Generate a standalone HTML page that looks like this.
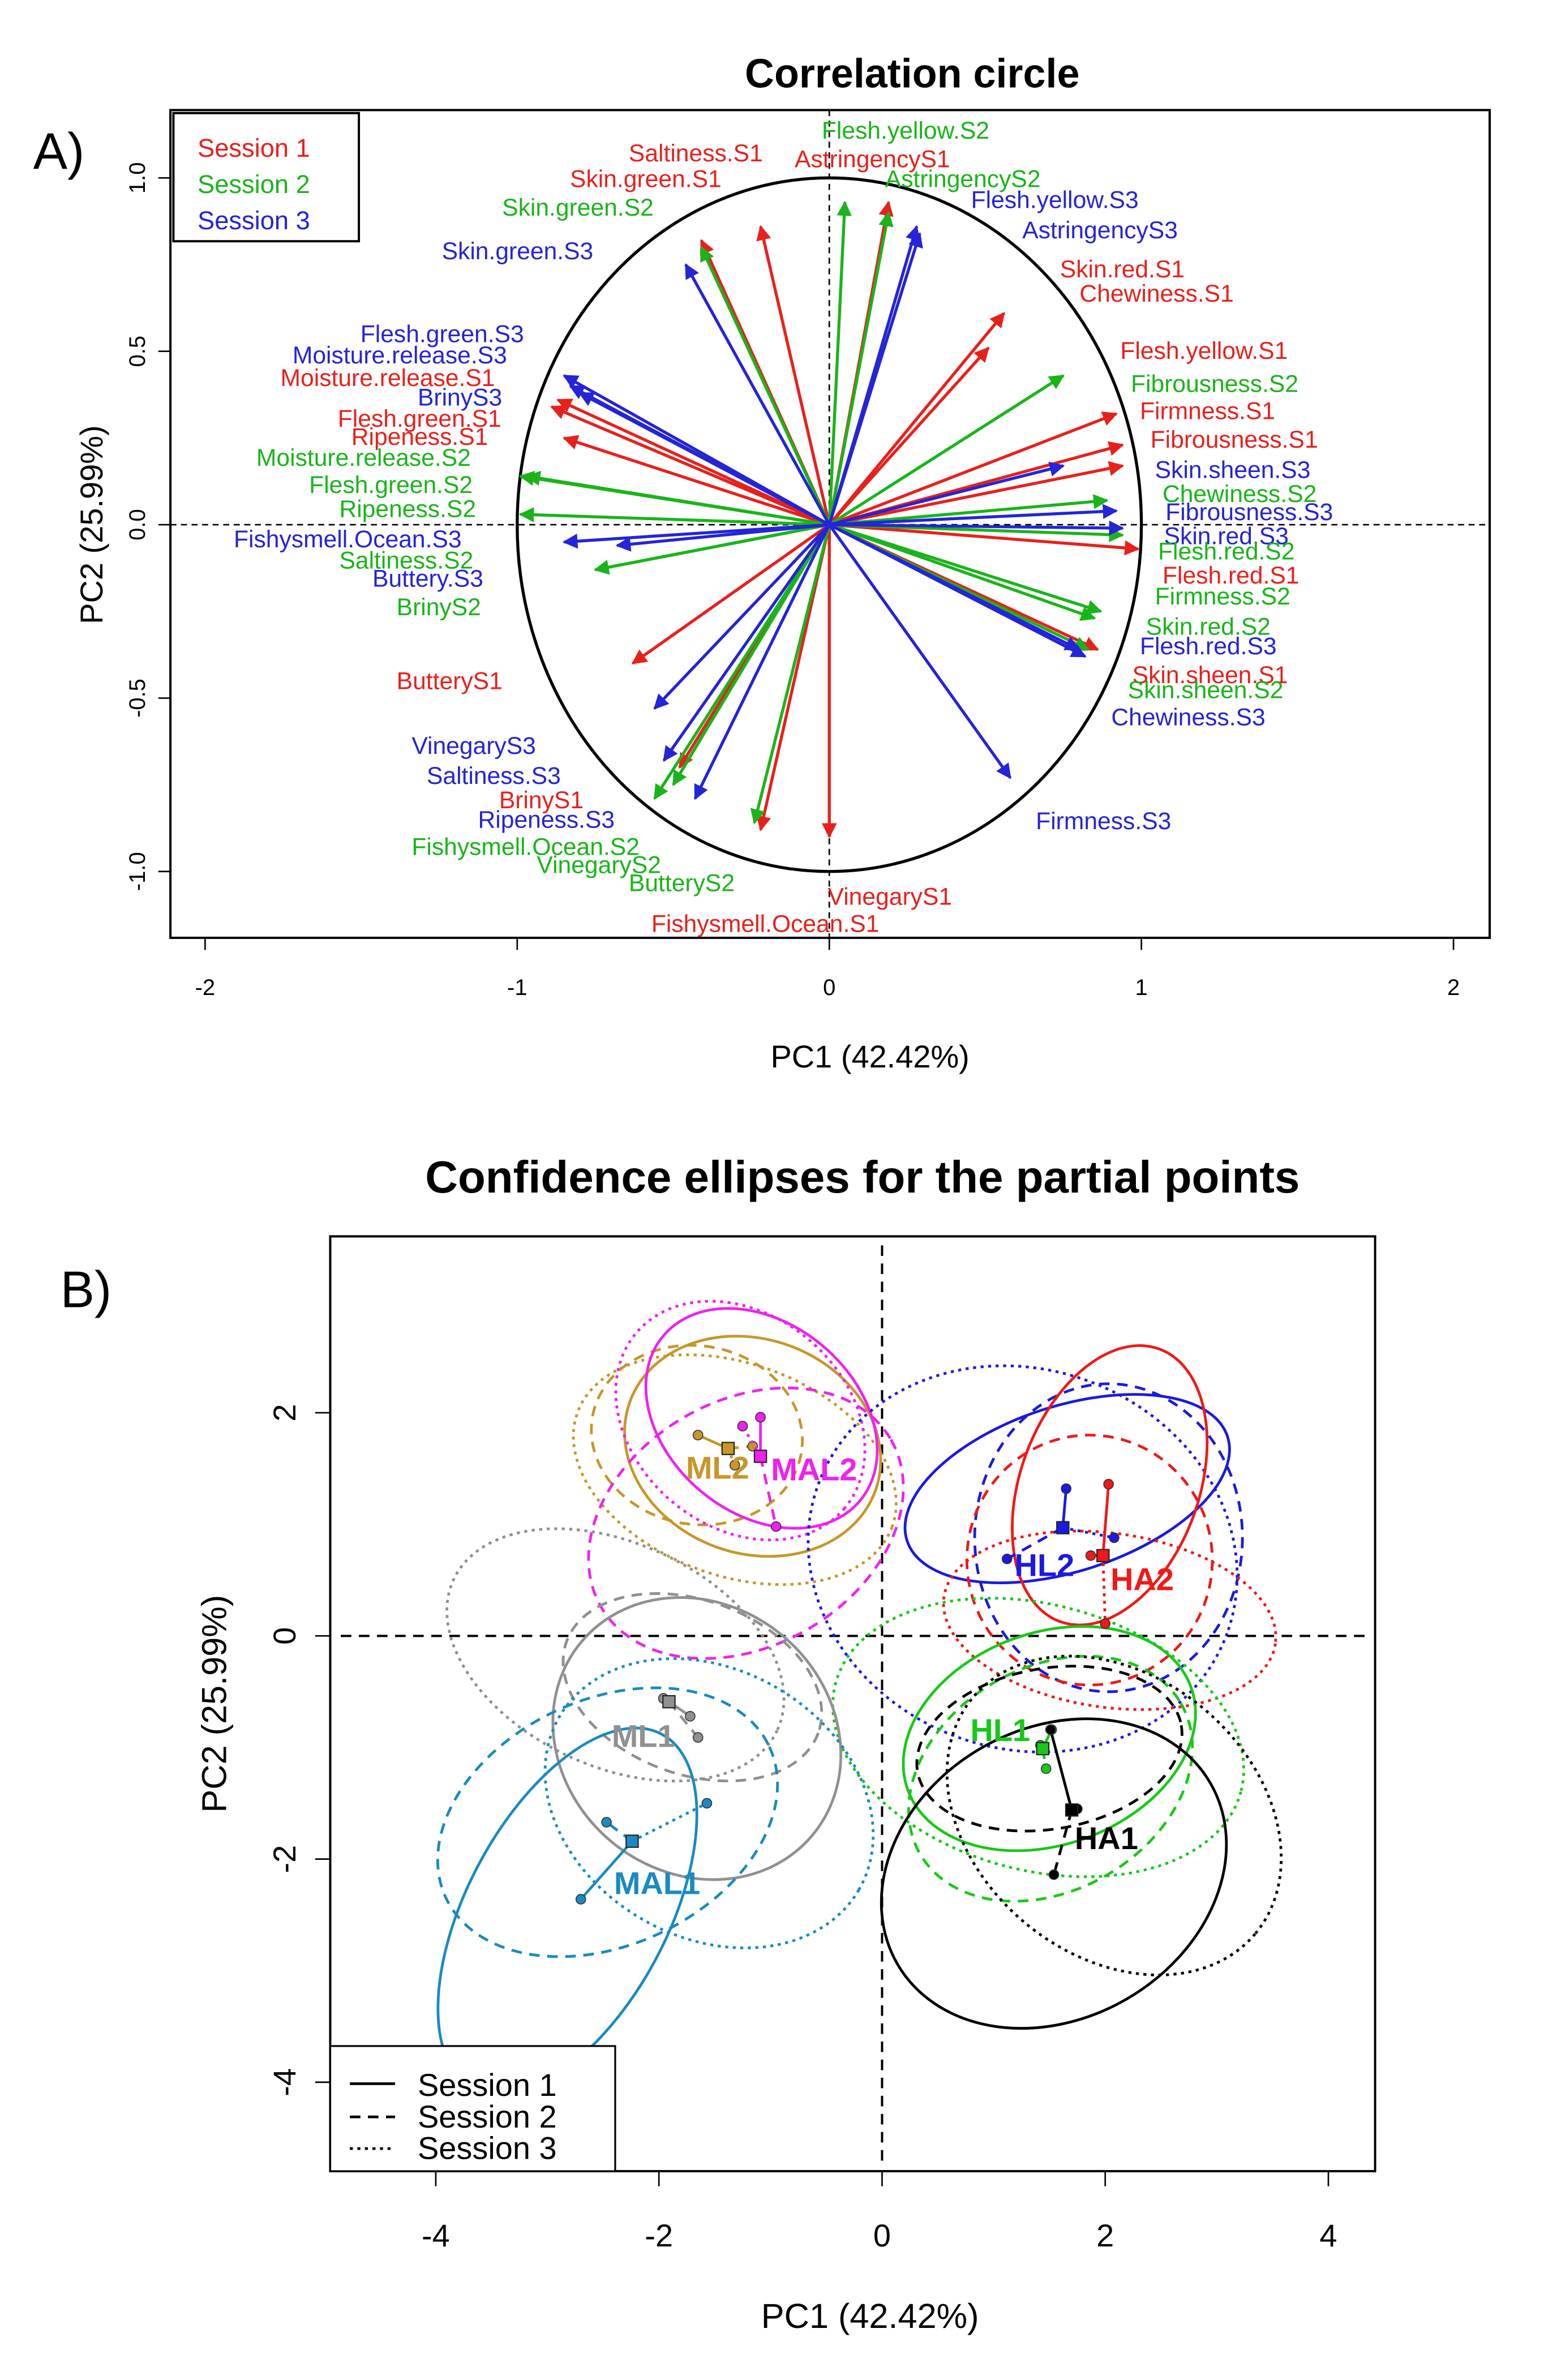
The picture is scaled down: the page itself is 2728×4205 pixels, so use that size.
<!DOCTYPE html>
<html><head><meta charset="utf-8"><style>
html,body{margin:0;padding:0;background:#fff}
svg{display:block}
text{font-family:"Liberation Sans",sans-serif}
</style></head><body>
<svg id="root" width="2728" height="4205" viewBox="0 0 1024 1578.5" xmlns="http://www.w3.org/2000/svg">
<rect width="1024" height="1578.5" fill="#fff"/>
<!-- Panel A -->
<g id="panelA">
<text x="22" y="112" font-size="34">A)</text>
<text x="605" y="58" font-size="27" font-weight="bold" text-anchor="middle">Correlation circle</text>
<rect x="113" y="73" width="875" height="549" fill="none" stroke="#000" stroke-width="1.5"/>
<g id="axA"></g>
<g id="arrowsA"></g>
<text x="577" y="708" font-size="21" text-anchor="middle">PC1 (42.42%)</text>
<text transform="translate(68,348) rotate(-90)" font-size="21" text-anchor="middle">PC2 (25.99%)</text>
<g>
<rect x="115" y="75" width="123" height="85" fill="#fff" stroke="#000" stroke-width="1.5"/>
<text x="131" y="104" font-size="17" fill="#e8201c">Session 1</text>
<text x="131" y="128" font-size="17" fill="#1ab41a">Session 2</text>
<text x="131" y="152" font-size="17" fill="#2424d8">Session 3</text>
</g>
<g font-size="16">
<text x="545" y="92" fill="#1ab41a">Flesh.yellow.S2</text>
<text x="417" y="107" fill="#e8201c">Saltiness.S1</text>
<text x="527" y="111" fill="#e8201c">AstringencyS1</text>
<text x="378" y="124" fill="#e8201c">Skin.green.S1</text>
<text x="587" y="124" fill="#1ab41a">AstringencyS2</text>
<text x="644" y="138" fill="#2424d8">Flesh.yellow.S3</text>
<text x="333" y="143" fill="#1ab41a">Skin.green.S2</text>
<text x="678" y="158" fill="#2424d8">AstringencyS3</text>
<text x="293" y="172" fill="#2424d8">Skin.green.S3</text>
<text x="703" y="184" fill="#e8201c">Skin.red.S1</text>
<text x="716" y="200" fill="#e8201c">Chewiness.S1</text>
<text x="239" y="227" fill="#2424d8">Flesh.green.S3</text>
<text x="743" y="238" fill="#e8201c">Flesh.yellow.S1</text>
<text x="194" y="241" fill="#2424d8">Moisture.release.S3</text>
<text x="186" y="256" fill="#e8201c">Moisture.release.S1</text>
<text x="750" y="260" fill="#1ab41a">Fibrousness.S2</text>
<text x="277" y="269" fill="#2424d8">BrinyS3</text>
<text x="224" y="283" fill="#e8201c">Flesh.green.S1</text>
<text x="756" y="278" fill="#e8201c">Firmness.S1</text>
<text x="233" y="295" fill="#e8201c">Ripeness.S1</text>
<text x="763" y="297" fill="#e8201c">Fibrousness.S1</text>
<text x="170" y="309" fill="#1ab41a">Moisture.release.S2</text>
<text x="766" y="317" fill="#2424d8">Skin.sheen.S3</text>
<text x="205" y="327" fill="#1ab41a">Flesh.green.S2</text>
<text x="771" y="333" fill="#1ab41a">Chewiness.S2</text>
<text x="225" y="343" fill="#1ab41a">Ripeness.S2</text>
<text x="773" y="345" fill="#2424d8">Fibrousness.S3</text>
<text x="155" y="363" fill="#2424d8">Fishysmell.Ocean.S3</text>
<text x="772" y="361" fill="#2424d8">Skin.red.S3</text>
<text x="768" y="371" fill="#1ab41a">Flesh.red.S2</text>
<text x="225" y="377" fill="#1ab41a">Saltiness.S2</text>
<text x="247" y="389" fill="#2424d8">Buttery.S3</text>
<text x="771" y="387" fill="#e8201c">Flesh.red.S1</text>
<text x="766" y="401" fill="#1ab41a">Firmness.S2</text>
<text x="263" y="408" fill="#1ab41a">BrinyS2</text>
<text x="760" y="421" fill="#1ab41a">Skin.red.S2</text>
<text x="756" y="434" fill="#2424d8">Flesh.red.S3</text>
<text x="751" y="453" fill="#e8201c">Skin.sheen.S1</text>
<text x="263" y="457" fill="#e8201c">ButteryS1</text>
<text x="748" y="463" fill="#1ab41a">Skin.sheen.S2</text>
<text x="737" y="481" fill="#2424d8">Chewiness.S3</text>
<text x="273" y="500" fill="#2424d8">VinegaryS3</text>
<text x="283" y="520" fill="#2424d8">Saltiness.S3</text>
<text x="331" y="536" fill="#e8201c">BrinyS1</text>
<text x="317" y="549" fill="#2424d8">Ripeness.S3</text>
<text x="687" y="550" fill="#2424d8">Firmness.S3</text>
<text x="273" y="567" fill="#1ab41a">Fishysmell.Ocean.S2</text>
<text x="356" y="579" fill="#1ab41a">VinegaryS2</text>
<text x="417" y="591" fill="#1ab41a">ButteryS2</text>
<text x="549" y="600" fill="#e8201c">VinegaryS1</text>
<text x="432" y="618" fill="#e8201c">Fishysmell.Ocean.S1</text>
</g>
</g>
<!-- Panel B -->
<g id="panelB">
<text x="40" y="867" font-size="34">B)</text>
<text x="572" y="791" font-size="30" font-weight="bold" text-anchor="middle">Confidence ellipses for the partial points</text>
<rect x="219" y="820" width="693" height="620" fill="none" stroke="#000" stroke-width="1.5"/>
<g id="axB"></g>
<g id="ellB"></g>
<g id="ptsB"></g>
<text x="577" y="1544" font-size="23" text-anchor="middle">PC1 (42.42%)</text>
<text transform="translate(150,1130) rotate(-90)" font-size="23" text-anchor="middle">PC2 (25.99%)</text>
<g>
<rect x="219" y="1357" width="189" height="83" fill="#fff" stroke="#000" stroke-width="1.2"/>
<line x1="232" y1="1382" x2="262" y2="1382" stroke="#000" stroke-width="1.8"/>
<line x1="232" y1="1404" x2="262" y2="1404" stroke="#000" stroke-width="1.8" stroke-dasharray="7,5"/>
<line x1="232" y1="1425" x2="262" y2="1425" stroke="#000" stroke-width="1.8" stroke-dasharray="2,3"/>
<text x="277" y="1390" font-size="21">Session 1</text>
<text x="277" y="1411" font-size="21">Session 2</text>
<text x="277" y="1432" font-size="21">Session 3</text>
</g>
</g>
</svg>
<script>
const NS="http://www.w3.org/2000/svg";
// ---- Panel A data ----
const varNames=["AstringencyS1","Saltiness.S1","Skin.green.S1","Skin.red.S1","Chewiness.S1","Flesh.yellow.S1","Firmness.S1","Fibrousness.S1","Flesh.red.S1","Skin.sheen.S1","Moisture.release.S1","Flesh.green.S1","Ripeness.S1","ButteryS1","BrinyS1","VinegaryS1","Fishysmell.Ocean.S1",
"Flesh.yellow.S2","AstringencyS2","Skin.green.S2","Fibrousness.S2","Chewiness.S2","Flesh.red.S2","Firmness.S2","Skin.red.S2","Skin.sheen.S2","Moisture.release.S2","Flesh.green.S2","Ripeness.S2","Saltiness.S2","BrinyS2","Fishysmell.Ocean.S2","VinegaryS2","ButteryS2",
"Flesh.yellow.S3","AstringencyS3","Skin.green.S3","Flesh.green.S3","Moisture.release.S3","BrinyS3","Fishysmell.Ocean.S3","Buttery.S3","Skin.sheen.S3","Fibrousness.S3","Skin.red.S3","Flesh.red.S3","Chewiness.S3","Firmness.S3","VinegaryS3","Saltiness.S3","Ripeness.S3"];
const pc1=[0.19,-0.22,-0.41,0.56,0.51,0.92,0.94,0.94,0.99,0.86,-0.89,-0.87,-0.85,-0.63,-0.22,-0.48,0.0,
0.05,0.19,-0.41,0.75,0.89,0.94,0.87,0.85,0.83,-0.97,-0.99,-0.99,-0.75,-0.75,-0.56,-0.5,-0.24,
0.28,0.29,-0.46,-0.85,-0.83,-0.8,-0.85,-0.68,0.75,0.92,0.94,0.82,0.80,0.58,-0.56,-0.53,-0.43];
const pc2=[0.93,0.86,0.82,0.61,0.51,0.32,0.23,0.17,-0.07,-0.36,0.34,0.36,0.25,-0.4,-0.88,-0.7,-0.9,
0.93,0.9,0.8,0.43,0.07,-0.03,-0.25,-0.27,-0.36,0.14,0.14,0.03,-0.13,-0.13,-0.79,-0.75,-0.86,
0.86,0.84,0.75,0.43,0.40,0.38,-0.05,-0.06,0.17,0.04,-0.01,-0.38,-0.36,-0.73,-0.53,-0.68,-0.79];
const sessionOf=[1,1,1,1,1,1,1,1,1,1,1,1,1,1,1,1,1,2,2,2,2,2,2,2,2,2,2,2,2,2,2,2,2,2,3,3,3,3,3,3,3,3,3,3,3,3,3,3,3,3,3];
const ticksA_x=[-2,-1,0,1,2];
const ticksA_y=[-1.0,-0.5,0.0,0.5,1.0];
const sx=v=>550+v*207, sy=v=>348-v*230;
const sesCol={1:"#e8201c",2:"#1ab41a",3:"#2424d8"};
function mk(tag,attrs,parent){const e=document.createElementNS(NS,tag);for(const k in attrs)e.setAttribute(k,attrs[k]);parent.appendChild(e);return e;}
const axA=document.getElementById("axA");
ticksA_x.forEach(t=>{const l=mk("line",{x1:sx(t),y1:622,x2:sx(t),y2:630,stroke:"#000"},axA);


const tx=mk("text",{x:sx(t),y:660,"font-size":15,"text-anchor":"middle"},axA);tx.textContent=String(t);

});
ticksA_y.forEach(t=>{const l=mk("line",{x1:105,y1:sy(t),x2:113,y2:sy(t),stroke:"#000"},axA);


const tx=mk("text",{transform:`translate(96,${sy(t)}) rotate(-90)`,"font-size":15,"text-anchor":"middle"},axA);tx.textContent=t.toFixed(1);

});
mk("line",{x1:113,y1:sy(0),x2:988,y2:sy(0),stroke:"#000","stroke-dasharray":"4,3"},axA);
mk("line",{x1:sx(0),y1:73,x2:sx(0),y2:622,stroke:"#000","stroke-dasharray":"4,3"},axA);
const circ=mk("ellipse",{cx:sx(0),cy:sy(0),rx:207,ry:230,fill:"none",stroke:"#000","stroke-width":2},axA);


const defs=mk("defs",{},document.getElementById("root"));
[1,2,3].forEach(s=>{const m=mk("marker",{id:"ah"+s,viewBox:"0 0 10 10",refX:9,refY:5,markerWidth:5,markerHeight:5,orient:"auto"},defs);mk("path",{d:"M0,0 L10,5 L0,10 z",fill:sesCol[s]},m);});
const arrowsA=document.getElementById("arrowsA");
varNames.forEach((n,i)=>{const l=mk("line",{x1:sx(0),y1:sy(0),x2:sx(pc1[i]),y2:sy(pc2[i]),stroke:sesCol[sessionOf[i]],"stroke-width":2,"marker-end":`url(#ah${sessionOf[i]})`},arrowsA);

});

// ---- Panel B data ----
const groups=["ML2","MAL2","HL2","HA2","HL1","HA1","ML1","MAL1"];
const groupColors=["#c8962a","#f020f0","#1a1ae0","#f01818","#18c818","#000000","#909090","#1a8ac0"];
const ellCx=[[-1.16,-1.66,-1.32],[-1.08,-1.22,-1.27],[1.66,2.03,1.26],[2.04,1.86,2.04],[1.5,1.51,1.4],[1.54,1.5,2.08],[-1.66,-1.70,-2.39],[-2.82,-2.46,-1.55]];
const ellCy=[[1.70,1.80,1.49],[1.95,1.01,1.93],[1.32,0.88,0.69],[1.35,0.68,0.14],[-0.92,-1.28,-0.91],[-2.13,-1.01,-1.61],[-0.92,-0.46,-0.17],[-2.47,-1.67,-1.5]];
const ellRx=[[1.17,0.95,1.5],[1.15,1.5,1.22],[1.51,1.2,1.95],[0.8,1.1,1.5],[1.35,1.35,1.88],[1.62,1.2,1.65],[1.35,1.2,1.6],[1.8,1.6,1.55]];
const ellRy=[[0.96,0.8,0.95],[0.85,1.1,0.95],[0.74,1.38,1.7],[1.3,1.12,0.78],[0.95,1.0,1.19],[1.3,0.72,1.25],[1.2,0.78,1.0],[0.9,1.1,1.2]];
const ellAng=[[-20,-10,-20],[-40,30,-40],[18,0,-20],[-20,0,-8],[20,30,-15],[30,10,-40],[-40,-20,-25],[62,25,-30]];
const centX=[-1.38,-1.09,1.62,1.98,1.44,1.70,-1.91,-2.24];
const centY=[1.68,1.61,0.97,0.72,-1.01,-1.56,-0.59,-1.84];
const partX=[[-1.65,-1.16,-1.32],[-1.09,-0.95,-1.25],[1.65,1.12,2.08],[2.03,1.87,2.0],[1.52,1.47,1.42],[1.51,1.54,1.75],[-1.72,-1.65,-1.96],[-2.7,-2.47,-1.57]];
const partY=[[1.80,1.70,1.53],[1.96,0.98,1.88],[1.32,0.69,0.88],[1.36,0.72,0.11],[-0.84,-1.19,-0.98],[-0.84,-2.14,-1.55],[-0.72,-0.91,-0.56],[-2.36,-1.67,-1.50]];
const labelDx=[-28,7,-32,5,-48,2,-38,-12];
const labelDy=[20,16,32,23,-5,26,30,35];
const ticksB=[-4,-2,0,2,4];
const bx=v=>585+v*74, by=v=>1085-v*74;
const dash=["","7,5","2,3"];
const axB=document.getElementById("axB");
ticksB.forEach(t=>{const l=mk("line",{x1:bx(t),y1:1440,x2:bx(t),y2:1450,stroke:"#000"},axB);


const tx=mk("text",{x:bx(t),y:1490,"font-size":21,"text-anchor":"middle"},axB);tx.textContent=String(t);

});
ticksB.filter(t=>t>=-4&&t<=2).forEach(t=>{const l=mk("line",{x1:209,y1:by(t),x2:219,y2:by(t),stroke:"#000"},axB);


const tx=mk("text",{transform:`translate(196,${by(t)}) rotate(-90)`,"font-size":21,"text-anchor":"middle"},axB);tx.textContent=String(t);

});
mk("line",{x1:226,y1:by(0),x2:905,y2:by(0),stroke:"#000","stroke-dasharray":"7,5","stroke-width":1.5},axB);
mk("line",{x1:bx(0),y1:826,x2:bx(0),y2:1434,stroke:"#000","stroke-dasharray":"7,5","stroke-width":1.5},axB);
const ellB=document.getElementById("ellB"), ptsB=document.getElementById("ptsB");
groups.forEach((g,gi)=>{
  for(let s=0;s<3;s++){
    const e=mk("ellipse",{cx:bx(ellCx[gi][s]),cy:by(ellCy[gi][s]),rx:ellRx[gi][s]*74,ry:ellRy[gi][s]*74,
      transform:`rotate(${-ellAng[gi][s]} ${bx(ellCx[gi][s])} ${by(ellCy[gi][s])})`,fill:"none",stroke:groupColors[gi],"stroke-width":1.8,"stroke-dasharray":dash[s]},ellB);
    
    
  }
  for(let s=0;s<3;s++){
    const l=mk("line",{x1:bx(centX[gi]),y1:by(centY[gi]),x2:bx(partX[gi][s]),y2:by(partY[gi][s]),stroke:groupColors[gi],"stroke-width":1.8,"stroke-dasharray":dash[s]},ptsB);
    
    
    const c=mk("circle",{cx:bx(partX[gi][s]),cy:by(partY[gi][s]),r:3.2,fill:groupColors[gi],stroke:"#333","stroke-width":0.6},ptsB);
    
    
  }
  const r=mk("rect",{x:bx(centX[gi])-4,y:by(centY[gi])-4,width:8,height:8,fill:groupColors[gi],stroke:"#222","stroke-width":0.8},ptsB);
  
  
  const t=mk("text",{x:bx(centX[gi])+labelDx[gi],y:by(centY[gi])+labelDy[gi],"font-size":21,"font-weight":"bold",fill:groupColors[gi]},ptsB);
  t.textContent=g;
  
  
});
</script>
</body></html>
